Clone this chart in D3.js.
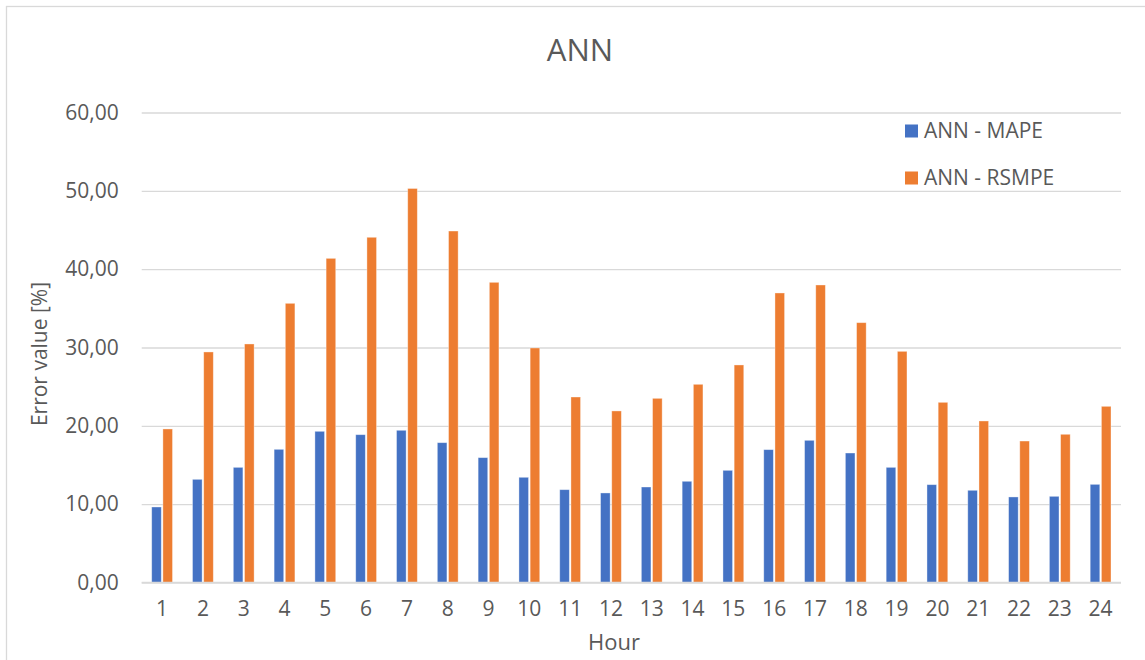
<!DOCTYPE html>
<html>
<head>
<meta charset="utf-8">
<script src="https://cdn.jsdelivr.net/npm/d3@7"></script>
<style>
  html, body { margin: 0; padding: 0; background: #fff; }
  svg { display: block; font-family: "Open Sans", "Noto Sans", sans-serif; }
</style>
</head>
<body>
<svg id="chart" width="1145" height="660"></svg>
<script>
// Hourly error values of the ANN model
const hours = ["1","2","3","4","5","6","7","8","9","10","11","12","13","14","15","16","17","18","19","20","21","22","23","24"];
const mape = [9.64, 13.17, 14.70, 17.00, 19.30, 18.87, 19.43, 17.85, 15.94, 13.43, 11.85, 11.43,
              12.19, 12.92, 14.32, 16.96, 18.15, 16.53, 14.70, 12.49, 11.77, 10.92, 11.00, 12.53];
const rsmpe = [19.60, 29.43, 30.45, 35.64, 41.38, 44.07, 50.30, 44.87, 38.32, 29.94, 23.68, 21.90,
               23.51, 25.30, 27.77, 36.96, 37.98, 33.17, 29.51, 23.00, 20.62, 18.06, 18.92, 22.49];
const seriesNames = ["ANN - MAPE", "ANN - RSMPE"];
const seriesColors = ["#4472c4", "#ed7d31"];
const yTicks = [0, 10, 20, 30, 40, 50, 60];

const svg = d3.select("#chart");
const W = 1145, H = 660;
const plot = { left: 141.7, right: 1121, top: 112.5, bottom: 582.5 };
const textColor = "#595959";
const gridColor = "#d9d9d9";

// chart frame
svg.append("rect")
  .attr("x", 6.5).attr("y", 6.5)
  .attr("width", W + 20).attr("height", H + 20)
  .attr("fill", "#fff").attr("stroke", gridColor).attr("stroke-width", 1.3);

const x = d3.scaleBand().domain(hours).range([plot.left, plot.right]).paddingInner(0).paddingOuter(0);
const y = d3.scaleLinear().domain([0, 60]).range([plot.bottom, plot.top]);

const fmt = d3.formatLocale({ decimal: ",", thousands: ".", grouping: [3], currency: ["", ""] }).format(".2f");

// horizontal gridlines and y labels
const yAxis = d3.axisLeft(y).tickValues(yTicks).tickFormat(fmt)
  .tickSize(-(plot.right - plot.left)).tickPadding(23);
const gy = svg.append("g").attr("transform", `translate(${plot.left},0)`).call(yAxis);
gy.select(".domain").remove();
gy.selectAll(".tick line").attr("stroke", gridColor).attr("stroke-width", 1.3);
gy.selectAll(".tick text").attr("fill", textColor).attr("font-size", 21)
  .attr("font-family", "'Open Sans', sans-serif");

// x labels
const xAxis = d3.axisBottom(x).tickSize(0).tickPadding(19);
const gx = svg.append("g").attr("transform", `translate(0,${plot.bottom})`).call(xAxis);
gx.select(".domain").remove();
gx.selectAll(".tick text").attr("fill", textColor).attr("font-size", 21)
  .attr("font-family", "'Open Sans', sans-serif");

// bars
const barW = 9.6, gap = 1.6;
const sub = d3.scaleOrdinal().domain([0, 1]).range([-gap / 2 - barW, gap / 2]);
[mape, rsmpe].forEach((vals, si) => {
  svg.append("g").selectAll("rect")
    .data(vals)
    .join("rect")
    .attr("x", (d, i) => x(hours[i]) + x.bandwidth() / 2 + sub(si))
    .attr("y", d => y(d))
    .attr("width", barW)
    .attr("height", d => y(0) - y(d))
    .attr("fill", seriesColors[si])
    .attr("stroke", "#fff").attr("stroke-opacity", 0.45).attr("stroke-width", 0.8);
});

// baseline
svg.append("line")
  .attr("x1", plot.left).attr("x2", plot.right)
  .attr("y1", y(0)).attr("y2", y(0))
  .attr("stroke", gridColor).attr("stroke-width", 1.3);

// title
svg.append("text").attr("x", 580).attr("y", 61)
  .attr("text-anchor", "middle").attr("fill", textColor)
  .attr("font-size", 31).text("ANN");

// axis titles
svg.append("text").attr("x", 614).attr("y", 650)
  .attr("text-anchor", "middle").attr("fill", textColor)
  .attr("font-size", 22).text("Hour");
svg.append("text")
  .attr("transform", `translate(47,354) rotate(-90)`)
  .attr("text-anchor", "middle").attr("fill", textColor)
  .attr("font-size", 21).text("Error value [%]");

// legend
const legend = svg.append("g");
seriesNames.forEach((name, i) => {
  const ly = 131 + i * 47;
  legend.append("rect").attr("x", 905).attr("y", ly - 6.5)
    .attr("width", 13).attr("height", 13).attr("fill", seriesColors[i]);
  legend.append("text").attr("x", 924).attr("y", ly).attr("dy", "0.35em")
    .attr("fill", textColor).attr("font-size", 21).text(name);
});
</script>
</body>
</html>
